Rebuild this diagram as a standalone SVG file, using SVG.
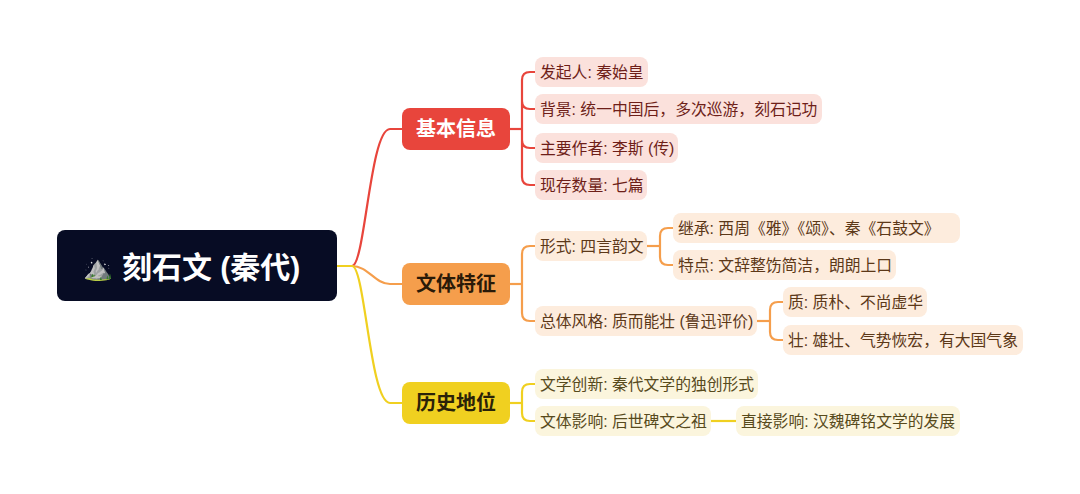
<svg xmlns="http://www.w3.org/2000/svg" width="1080" height="494" viewBox="0 0 1080 494">
<style>
text{font-family:"Liberation Sans","Noto Sans CJK SC",sans-serif;dominant-baseline:central}
.b{font-size:20px;font-weight:bold;text-anchor:middle}
.l{font-size:15.8px}
.r rect{fill:#fbe1dc}.r text{fill:#6e1e18}
.o rect{fill:#fdecdd}.o text{fill:#5c3818}
.y rect{fill:#fbf5dd}.y text{fill:#574a1c}
.c path{fill:none;stroke-width:2.2}
</style>
<g class="c" id="connectors">
<path d="M337 266H352C365 266 370 129 390 129H402" stroke="#e8453c"/>
<path d="M337 266H352C368 266 375 284 390 284H402" stroke="#f59e4c"/>
<path d="M337 266H352C365 266 370 403 390 403H402" stroke="#f0d020"/>
<g stroke="#e8453c"><path d="M510 129H522"/><path d="M522 129V80Q522 72 530 72H535M522 129V101Q522 109 530 109H535M522 129V140Q522 148 530 148H535M522 129V177Q522 185 530 185H535"/></g>
<g stroke="#f59e4c"><path d="M510 284H522"/><path d="M522 284V254Q522 246 530 246H535M522 284V313Q522 321 530 321H535"/>
<path d="M647 246H660"/><path d="M660 246V236Q660 228 668 228H673M660 246V257Q660 265 668 265H673"/>
<path d="M757 321H770"/><path d="M770 321V310Q770 302 778 302H783M770 321V332Q770 340 778 340H783"/></g>
<g stroke="#f0d020"><path d="M510 403H522"/><path d="M522 403V392Q522 384 530 384H535M522 403V413Q522 421 530 421H535"/><path d="M711 421H736"/></g>
</g>
<g id="root"><rect x="57" y="230" width="280" height="71" rx="8" fill="#070c24"/><text x="83" y="267" font-size="24" fill="#fff">⛰️</text><text x="122" y="267" font-size="30" font-weight="bold" fill="#fff">刻石文 (秦代)</text></g>
<g id="b1"><rect x="402" y="108" width="108" height="42" rx="8" fill="#e8453c"/><text class="b" x="456" y="129" fill="#fff">基本信息</text></g>
<g id="b2"><rect x="402" y="263" width="108" height="42" rx="8" fill="#f59e4c"/><text class="b" x="456" y="284" fill="#2a1a08">文体特征</text></g>
<g id="b3"><rect x="402" y="382" width="108" height="42" rx="8" fill="#f0d020"/><text class="b" x="456" y="403" fill="#2a2208">历史地位</text></g>
<g class="r">
<g id="r1"><rect x="535" y="57" width="113" height="30" rx="8"/><text class="l" x="540" y="72">发起人: 秦始皇</text></g>
<g id="r2"><rect x="535" y="94" width="287" height="30" rx="8"/><text class="l" x="540" y="109">背景: 统一中国后，多次巡游，刻石记功</text></g>
<g id="r3"><rect x="535" y="133" width="143" height="30" rx="8"/><text class="l" x="540" y="148">主要作者: 李斯 (传)</text></g>
<g id="r4"><rect x="535" y="170" width="112" height="30" rx="8"/><text class="l" x="540" y="185">现存数量: 七篇</text></g>
</g>
<g class="o">
<g id="o1"><rect x="535" y="231" width="112" height="30" rx="8"/><text class="l" x="540" y="246">形式: 四言韵文</text></g>
<g id="o2"><rect x="535" y="306" width="222" height="30" rx="8"/><text class="l" x="540" y="321">总体风格: 质而能壮 (鲁迅评价)</text></g>
<g id="o3"><rect x="673" y="213" width="287" height="30" rx="8"/><text class="l" x="678" y="228">继承: 西周《雅》《颂》、秦《石鼓文》</text></g>
<g id="o4"><rect x="673" y="250" width="223" height="30" rx="8"/><text class="l" x="678" y="265">特点: 文辞整饬简洁，朗朗上口</text></g>
<g id="o5"><rect x="783" y="287" width="144" height="30" rx="8"/><text class="l" x="788" y="302">质: 质朴、不尚虚华</text></g>
<g id="o6"><rect x="783" y="325" width="240" height="30" rx="8"/><text class="l" x="788" y="340">壮: 雄壮、气势恢宏，有大国气象</text></g>
</g>
<g class="y">
<g id="y1"><rect x="535" y="369" width="223" height="30" rx="8"/><text class="l" x="540" y="384">文学创新: 秦代文学的独创形式</text></g>
<g id="y2"><rect x="535" y="406" width="176" height="30" rx="8"/><text class="l" x="540" y="421">文体影响: 后世碑文之祖</text></g>
<g id="y3"><rect x="736" y="406" width="224" height="30" rx="8"/><text class="l" x="741" y="421">直接影响: 汉魏碑铭文学的发展</text></g>
</g>
</svg>
